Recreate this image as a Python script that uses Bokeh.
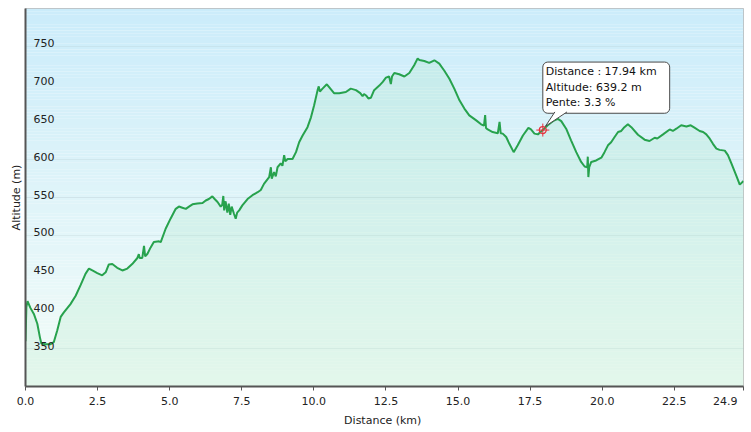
import numpy as np
from bokeh.plotting import figure
from bokeh.models import FixedTicker, Range1d, Label, PolyAnnotation, Arrow
from bokeh.core.properties import value
from bokeh.embed import file_html
from bokeh.resources import INLINE

# ---------------- data ----------------
distance_km = [
    0.00, 0.03, 0.07, 0.17, 0.29, 0.41, 0.50, 0.55, 0.69, 0.87, 0.98, 1.10, 1.22, 1.33,
    1.56, 1.74, 1.91, 2.08, 2.20, 2.32, 2.49, 2.66, 2.78, 2.89, 3.01, 3.18, 3.36, 3.53,
    3.70, 3.88, 3.93, 3.96, 4.05, 4.11, 4.15, 4.23, 4.34, 4.45, 4.63, 4.69, 4.86, 5.03,
    5.21, 5.32, 5.44, 5.56, 5.67, 5.79, 5.96, 6.14, 6.25, 6.36, 6.48, 6.56, 6.66, 6.77,
    6.82, 6.86, 6.89, 6.94, 7.00, 7.05, 7.10, 7.15, 7.23, 7.29, 7.34, 7.41, 7.52, 7.70,
    7.87, 8.05, 8.16, 8.27, 8.45, 8.51, 8.54, 8.62, 8.68, 8.74, 8.85, 8.91, 8.97, 9.01,
    9.09, 9.26, 9.38, 9.49, 9.61, 9.78, 9.90, 10.01, 10.13, 10.17, 10.21, 10.30, 10.45,
    10.53, 10.70, 10.88, 11.11, 11.28, 11.46, 11.61, 11.69, 11.74, 11.81, 11.89, 11.98,
    12.09, 12.27, 12.39, 12.50, 12.61, 12.67, 12.71, 12.79, 12.96, 13.14, 13.31, 13.48,
    13.60, 13.66, 13.83, 14.00, 14.18, 14.35, 14.52, 14.70, 14.87, 15.05, 15.22, 15.39,
    15.63, 15.80, 15.90, 15.94, 15.97, 16.03, 16.20, 16.38, 16.44, 16.48, 16.55, 16.67,
    16.78, 16.93, 17.07, 17.25, 17.44, 17.53, 17.65, 17.77, 17.94, 18.11, 18.29, 18.46,
    18.58, 18.75, 18.92, 19.10, 19.27, 19.39, 19.48, 19.50, 19.52, 19.55, 19.62, 19.79,
    19.97, 20.08, 20.20, 20.31, 20.43, 20.55, 20.66, 20.77, 20.89, 21.01, 21.24, 21.47,
    21.64, 21.82, 21.91, 22.11, 22.34, 22.45, 22.57, 22.74, 22.92, 23.07, 23.20, 23.38,
    23.50, 23.61, 23.73, 23.84, 23.96, 24.07, 24.25, 24.36, 24.48, 24.65, 24.77, 24.90,
]
altitude_m = [
    360, 405, 413, 404, 396, 383, 365, 357, 356, 356, 358.6, 374, 392, 398,
    409, 420, 434, 449, 456, 453.5, 450, 447, 451, 461.5, 462, 457, 453.5, 456,
    462, 470, 475, 470, 470, 486, 472, 475.6, 484, 491, 492, 491, 508.7, 522,
    535, 538, 536.5, 535, 538, 541, 542, 542.6, 546, 548, 551.5, 548, 544, 538,
    540, 552, 533, 545, 530, 542, 527, 538, 528.5, 522, 530, 533, 539.6, 548,
    553, 557, 560, 568, 577, 590, 575, 583.6, 578, 590, 595, 592, 606, 598,
    601, 601, 610, 623, 632, 643, 656, 672, 692, 697, 690, 694, 699.7,
    696, 688, 688, 689.5, 694, 692, 688, 684, 687, 685, 681, 682,
    692, 698, 703, 708.5, 710, 700, 710, 714.7, 713, 710, 714.7, 725,
    734, 732, 730.5, 728, 731.5, 727, 718, 707, 694, 678.5, 667.6, 658.7,
    652, 646.8, 645, 659, 642, 640, 636.6, 635, 650, 635, 634.5, 630,
    621, 610, 619, 632, 642, 640, 634.5, 633.5, 639.2, 645.5, 651, 654,
    651, 641, 625.6, 610, 597, 591, 590, 604, 577, 590, 597, 599,
    602.7, 610, 619, 623, 630, 636.6, 638, 643, 646.8, 643, 633, 626.5,
    624.7, 629, 628, 633.5, 640, 638, 641, 645.5, 644, 645.5, 642.4, 638,
    636.6, 633.5, 627.8, 621, 614.6, 613, 612, 606, 595, 579, 567, 571.7,
]

y_ticks = [350, 400, 450, 500, 550, 600, 650, 700, 750]
y_tick_labels = ["350", "400", "450", "500", "550", "600", "650", "700", "750"]
x_ticks = [0.0, 2.5, 5.0, 7.5, 10.0, 12.5, 15.0, 17.5, 20.0, 22.5, 24.9]
x_tick_labels = ["0.0", "2.5", "5.0", "7.5", "10.0", "12.5", "15.0", "17.5", "20.0", "22.5", "24.9"]
x_min, x_max = 0.0, 24.9
y_min, y_max = 300, 800

cursor_km = 17.94
cursor_alt = 639.2
cursor_slope = 3.3

FONT = "DejaVu Sans"

p = figure(width=751, height=432, output_backend="svg", toolbar_location=None,
           x_range=Range1d(x_min, x_max), y_range=Range1d(y_min, y_max),
           min_border_left=25, min_border_right=8, min_border_top=8, min_border_bottom=46,
           background_fill_color="white", border_fill_color="white")
p.outline_line_color = "#b8b8b8"
p.outline_line_width = 1

# background vertical gradient (blue top -> pale green bottom)
n_bands = 120
edges = np.linspace(y_min, y_max, n_bands + 1)
top_rgb = np.array([0xcb, 0xec, 0xfa])
bot_rgb = np.array([0xf3, 0xfc, 0xf8])
colors = []
for i in range(n_bands):
    t = (i + 0.5) / n_bands
    c = bot_rgb * (1 - t) + top_rgb * t
    colors.append("#%02x%02x%02x" % tuple(int(round(v)) for v in c))
p.quad(left=x_min, right=x_max, bottom=edges[:-1], top=edges[1:], fill_color=colors, line_color=None)

# grid
p.xgrid.visible = False
p.ygrid.ticker = FixedTicker(ticks=y_ticks)
p.ygrid.grid_line_color = "#a3b6ba"
p.ygrid.grid_line_width = 1.2
p.ygrid.level = "underlay"

# area + line
p.varea(x=distance_km, y1=y_min, y2=altitude_m, fill_color="#8fe3ab", fill_alpha=0.16)
p.line(distance_km, altitude_m, line_color="#27a24d", line_width=2)

# y tick labels inside plot
p.text(x=[x_min] * len(y_ticks), y=y_ticks, text=y_tick_labels, x_offset=8, y_offset=-3,
       text_font=value(FONT), text_font_size="11px", text_color="#222222",
       text_align="left", text_baseline="alphabetic")

# axes
p.yaxis.ticker = FixedTicker(ticks=[])
p.yaxis.major_tick_out = 0
p.yaxis.major_tick_in = 0
p.yaxis.minor_tick_out = 0
p.yaxis.major_label_standoff = 0
p.yaxis.axis_label = "Altitude (m)"
p.yaxis.axis_label_standoff = 3
p.yaxis.axis_line_color = "#555555"
p.yaxis.axis_line_width = 2

# last label padded with no-break spaces so it sits left of its tick, inside the page
x_label_map = {}
for t, lab in zip(x_ticks, x_tick_labels):
    x_label_map[t] = lab + "\u00a0" * 4 if t == x_max else lab
p.xaxis.ticker = FixedTicker(ticks=x_ticks)
p.xaxis.major_label_overrides = x_label_map
p.xaxis.major_tick_out = 4
p.xaxis.major_tick_in = 0
p.xaxis.minor_tick_out = 0
p.xaxis.major_tick_line_color = "#555555"
p.xaxis.major_label_standoff = 4
p.xaxis.axis_label = "Distance  (km)"
p.xaxis.axis_label_standoff = 3
p.xaxis.axis_line_color = "#555555"
p.xaxis.axis_line_width = 2

for ax in (p.xaxis, p.yaxis):
    ax.axis_label_text_font = FONT
    ax.axis_label_text_font_size = "11px"
    ax.axis_label_text_font_style = "normal"
    ax.axis_label_text_color = "#222222"
    ax.major_label_text_font = FONT
    ax.major_label_text_font_size = "11px"
    ax.major_label_text_color = "#222222"

# cursor marker
p.scatter([cursor_km], [cursor_alt], marker="cross", size=13, line_color="#e8303c", line_width=1)
p.scatter([cursor_km], [cursor_alt], marker="circle", size=7, line_color="#e8303c",
          fill_color=None, line_width=1.2)

# tooltip box
tip_text = "Distance : %.2f km\nAltitude: %.1f m\nPente: %.1f %%" % (cursor_km, cursor_alt, cursor_slope)
p.add_layout(Label(x=cursor_km, y=cursor_alt, text=tip_text, x_offset=0, y_offset=68,
                   text_align="left", text_baseline="top", text_font=FONT,
                   text_font_size="11px", text_color="#111111", text_line_height=1.2,
                   background_fill_color="white", background_fill_alpha=1.0,
                   border_line_color="#4a4a4a", border_line_width=1,
                   border_radius=5, padding=(3, 13, 3, 4)))

# tooltip pointer, anchored on the cursor point
ptr_x = [cursor_km + 0.09, cursor_km + 0.42, cursor_km + 0.84]
ptr_y = [cursor_alt + 5, cursor_alt + 24, cursor_alt + 24]
p.add_layout(PolyAnnotation(xs=ptr_x, ys=ptr_y, fill_color="white", fill_alpha=1.0, line_color=None))
p.add_layout(Arrow(x_start=ptr_x[0], y_start=ptr_y[0], x_end=ptr_x[1], y_end=ptr_y[1], end=None,
                   line_color="#4a4a4a", line_width=1))
p.add_layout(Arrow(x_start=ptr_x[0], y_start=ptr_y[0], x_end=ptr_x[2], y_end=ptr_y[2], end=None,
                   line_color="#4a4a4a", line_width=1))

open("out.html", "w").write(file_html(p, INLINE))
